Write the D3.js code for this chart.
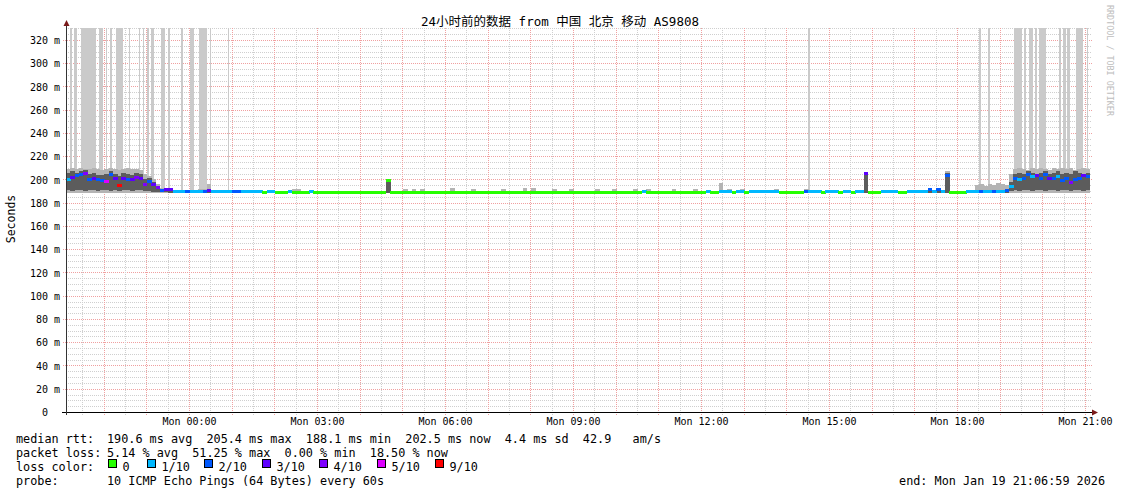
<!DOCTYPE html>
<html>
<head>
<meta charset="utf-8">
<script src="https://cdn.jsdelivr.net/npm/d3@7"></script>
<style>
  body { margin: 0; background: #fff; }
  svg { display: block; }
  text { white-space: pre; }
</style>
</head>
<body>
<script>
// smokeping style graph, 24h, 6 minute buckets from Sun Jan 18 21:07
var startTime = new Date(2026, 0, 18, 21, 7);
var endTime = new Date(2026, 0, 19, 21, 7);
var bucketMin = 6;

// median rtt (ms) per bucket
var median = [
  200,202,203,204,205,200,201,200,199,198,204,201,195,201,200,200,202,201,196,198,
  196,193,190.5,191,191,189.8,189.8,189.6,189.8,189.6,189.6,189.8,190,190.5,189.6,189.6,189.6,189.8,189.6,189.6,
  189.6,189.6,189.6,189.5,189.6,189.5,189,189.5,189.5,189,189,189,189.5,189,189,189,189,189.5,189,189,
  189,189,189,189,189,189,189,189,189,189,189,189,189,189,189,199,189,189,189,189,
  189,189,189,189,189,189,189,189,189,189,189,189,189,189,189,189,189,189,189,189,
  189,189,189,189,189,189,189,189,189,189,189,189,189,189,189,189,189,189,189,189,
  189,189,189,189,189,189,189,189,189,189,189,189,189,189,189,189.5,189,189,189,189,
  189,189,189,189,189,189,189,189,189,189,189.5,189,189,189.5,189.5,189.5,189,189.5,189.5,189,
  189.5,189.5,189.5,189.5,189.5,189.5,189.5,189,189,189,189,189,189,189.8,189.5,189.5,189.5,189,189.5,189.5,
  189.5,189,189.5,189.5,189,189.5,189.5,205,189,189,189,189.5,189.5,189.5,189.5,189,189,189.5,189.5,189.5,
  189.5,189.5,191,189.5,191,189.5,203,189,189,189,189,189.5,189.5,190,190,190,190,190,190,190,
  190.5,194,201,199.6,201,204,202.5,203,201,204,201,201,202.5,199,201,197,200,201,203,202.5
];

// lost pings out of 10 per bucket
var loss = [
  1,3,2,2,4,2,3,2,2,5,2,3,9,3,2,3,4,3,4,2,
  3,4,2,3,3,1,1,1,2,1,1,1,2,3,1,1,1,1,1,2,
  2,1,1,1,1,1,0,1,1,0,0,0,1,0,0,0,0,1,0,0,
  0,0,0,0,0,0,0,0,0,0,0,0,0,0,0,0,0,0,0,0,
  0,0,0,0,0,0,0,0,0,0,0,0,0,0,0,0,0,0,0,0,
  0,0,0,0,0,0,0,0,0,0,0,0,0,0,0,0,0,0,0,0,
  0,0,0,0,0,0,0,0,0,0,0,0,0,0,0,1,0,0,0,0,
  0,0,0,0,0,0,0,0,0,0,1,0,0,1,1,1,0,1,1,0,
  1,1,1,1,1,1,1,0,0,0,0,0,0,2,1,1,1,0,1,1,
  1,0,1,1,0,1,1,3,0,0,0,1,1,1,1,0,0,1,1,1,
  1,1,2,1,2,1,2,0,0,0,0,1,1,1,2,1,1,2,1,1,
  2,1,2,1,2,2,1,3,2,2,3,2,1,2,2,4,2,2,3,2
];

// highest ping (ms) per bucket - light smoke
var smokeHi = [
  209,210,209,210,209,209,210,209,208,209,210,209,208,209,210,209,209,208,205,203,
  200,196,193,192.5,192,191,191,190.5,191,191,190.5,191.5,192,196,191,190.5,190.5,191,190.5,191,
  190.5,190.5,191,190.5,190.5,190.5,190,190.5,191,190,190,190.5,190.5,191.5,191.5,190,190.5,190.5,190,190,
  190,190.5,190,190,190,190.5,190,190,190,190,190,190.5,190,190,190,200,190,190,190,192,
  190,192,190,192,190,190,190,190,190,190,192.5,190,190,190,190,192,190,190,190,190,
  190,190,192,190,190,190,190,192.5,190,192.5,190,190,190,190,192,190,190,190,192,190,
  190,190,190,190,192,190,190,190,192,190,190,190,190,192,190,190,192,190,190,190,
  190,190,192,190,190,190,190,192,190,190,190,190,190,197,190.5,192,190.5,190.5,192,190.5,
  191,190.5,190.5,191,190.5,190.5,192,190,190,190,190.5,190,190,192,190.5,190.5,191,190,190.5,191,
  190.5,190,191,190.5,190,190.5,191,206,190,190,190,190.5,191,190.5,190.5,190,190,190.5,191,190.5,
  190.5,191,193,191,193,191,207.5,190,190,190,190,190.5,191,195,196,194,196,195,197,196,
  195,205,209,210,209,208,210,209,210,209,208,210,209,210,209,210,208,209,210,209
];

// dense part of the ping spread - dark smoke
var coreHi = [
  206,207,206,207,208,205,206,204,204,205,207,205,203,206,205,204,206,205,200,201,
  198,194,191.5,191.5,191,190,190,190,190,190,190,190,190.5,191,190,190,190,190,190,190,
  190,190,190,190,190,190,190,190,190,190,190,190,190,190,190,190,190,190,190,190,
  190,190,190,190,190,190,190,190,190,190,190,190,190,190,190,199.5,190,190,190,190,
  190,190,190,190,190,190,190,190,190,190,190,190,190,190,190,190,190,190,190,190,
  190,190,190,190,190,190,190,190,190,190,190,190,190,190,190,190,190,190,190,190,
  190,190,190,190,190,190,190,190,190,190,190,190,190,190,190,190,190,190,190,190,
  190,190,190,190,190,190,190,190,190,190,190,190,190,190,190,190,190,190,190,190,
  190,190,190,190,190,190,190,190,190,190,190,190,190,190,190,190,190,190,190,190,
  190,190,190,190,190,190,190,205,190,190,190,190,190,190,190,190,190,190,190,190,
  190,190,192,190,192,190,206,190,190,190,190,190,190,191,191,191,191,191,191,191,
  191,198,205,206,205,207,206,205,206,207,205,206,207,205,206,205,207,206,205,206
];

var coreLo = [
  191,190.5,191,191,190.5,191,191,190.5,191,191,190,191,190.5,191,191,190.5,191,191,190,190,
  189.5,189,189,189,188.5,188.5,188.5,188.5,188.5,188.5,188.5,188.5,188.5,188.5,188.5,188.5,188.5,188.5,188.5,188.5,
  188.5,188.5,188.5,188.5,188.5,188.5,188.5,188.5,188.5,188.5,188.5,188.5,188.5,188.5,188.5,188.5,188.5,188.5,188.5,188.5,
  188.5,188.5,188.5,188.5,188.5,188.5,188.5,188.5,188.5,188.5,188.5,188.5,188.5,188.5,188.5,188.5,188.5,188.5,188.5,188.5,
  188.5,188.5,188.5,188.5,188.5,188.5,188.5,188.5,188.5,188.5,188.5,188.5,188.5,188.5,188.5,188.5,188.5,188.5,188.5,188.5,
  188.5,188.5,188.5,188.5,188.5,188.5,188.5,188.5,188.5,188.5,188.5,188.5,188.5,188.5,188.5,188.5,188.5,188.5,188.5,188.5,
  188.5,188.5,188.5,188.5,188.5,188.5,188.5,188.5,188.5,188.5,188.5,188.5,188.5,188.5,188.5,188.5,188.5,188.5,188.5,188.5,
  188.5,188.5,188.5,188.5,188.5,188.5,188.5,188.5,188.5,188.5,188.5,188.5,188.5,188.5,188.5,188.5,188.5,188.5,188.5,188.5,
  188.5,188.5,188.5,188.5,188.5,188.5,188.5,188.5,188.5,188.5,188.5,188.5,188.5,188.5,188.5,188.5,188.5,188.5,188.5,188.5,
  188.5,188.5,188.5,188.5,188.5,188.5,188.5,188.5,188.5,188.5,188.5,188.5,188.5,188.5,188.5,188.5,188.5,188.5,188.5,188.5,
  188.5,188.5,188.5,188.5,188.5,188.5,188.5,188.5,188.5,188.5,188.5,188.5,188.5,188.5,188.5,188.5,188.5,188.5,188.5,188.5,
  188.5,190,191,190.5,191,191,190.5,191,191,190.5,191,191,190.5,191,191,190.5,191,191,190.5,191
];
var pingFloor = 188.5;

// periods with lost pings (minutes after start) drawn as full height columns
var lossBars = [
  [5.6, 8.4], [11.3, 15.5], [21.1, 42.6], [46.4, 52.0], [56.3, 58.1], [62.3, 65.1],
  [70.3, 80.2], [88.2, 90.0], [102.2, 104.1], [108.7, 110.1], [113.9, 116.7],
  [119.1, 123.8], [134.0, 138.8], [143.0, 145.8], [162.1, 164.1], [174.8, 180.0],
  [187.0, 198.3], [202.5, 204.3], [227.4, 228.8],
  [1043.0, 1045.8], [1283.5, 1287.1], [1297.0, 1299.4], [1333.1, 1343.9],
  [1347.2, 1349.6], [1353.8, 1359.4], [1363.1, 1365.9], [1367.9, 1377.8],
  [1396.8, 1398.8], [1402.5, 1406.3], [1408.1, 1411.9], [1420.3, 1430.6], [1435.4, 1437.6]
];

var lossColor = ['#26ff00', '#00b8ff', '#0059ff', '#5e00ff', '#7e00ff',
  '#dd00ff', '#dd00ff', '#dd00ff', '#dd00ff', '#ff0000', '#ff0000'];
var legendKeys = ['0', '1/10', '2/10', '3/10', '4/10', '5/10', '9/10'];
var legendLoss = [0, 1, 2, 3, 4, 5, 9];

var title = '24小时前的数据 from 中国 北京 移动 AS9808';
var statLines = [
  ['median rtt:', '190.6 ms avg  205.4 ms max  188.1 ms min  202.5 ms now  4.4 ms sd  42.9   am/s'],
  ['packet loss:', '5.14 % avg  51.25 % max  0.00 % min  18.50 % now']
];
var probeText = '10 ICMP Echo Pings (64 Bytes) every 60s';
var endText = 'end: Mon Jan 19 21:06:59 2026';

var W = 1121, H = 494;
var mono = '"DejaVu Sans Mono", monospace';

var svg = d3.select('body').append('svg')
  .attr('width', W)
  .attr('height', H)
  .style('font-family', mono);

svg.append('rect').attr('width', W).attr('height', H).attr('fill', '#fff');

var x = d3.scaleTime().domain([startTime, endTime]).range([66, 1090]);
var y = d3.scaleLinear().domain([0, 330.3]).range([412, 28]);

function tOf(i) { return new Date(startTime.getTime() + i * bucketMin * 60000); }
function tMin(m) { return new Date(startTime.getTime() + m * 60000); }

// grid
var grid = svg.append('g').attr('shape-rendering', 'crispEdges');
var yMinor = d3.range(0, 331, 5);
grid.selectAll('.hy').data(yMinor).enter().append('line')
  .attr('x1', function(d) { return d % 20 === 0 ? 63 : 66; })
  .attr('x2', 1092)
  .attr('y1', function(d) { return Math.round(y(d)) + 0.5; })
  .attr('y2', function(d) { return Math.round(y(d)) + 0.5; })
  .attr('stroke', function(d) { return d % 20 === 0 ? '#f0a0a0' : '#cfcfcf'; })
  .attr('stroke-dasharray', '1,1');

var halfHours = x.ticks(d3.timeMinute.every(30));
grid.selectAll('.vx').data(halfHours).enter().append('line')
  .attr('x1', function(d) { return Math.round(x(d)) + 0.5; })
  .attr('x2', function(d) { return Math.round(x(d)) + 0.5; })
  .attr('y1', 28)
  .attr('y2', 415)
  .attr('stroke', function(d) { return d.getMinutes() === 0 ? '#f0a0a0' : '#cfcfcf'; })
  .attr('stroke-dasharray', '1,1');

// data layers
var plot = svg.append('g').attr('shape-rendering', 'crispEdges');

plot.selectAll('.lb').data(lossBars).enter().append('rect')
  .attr('x', function(d) { return x(tMin(d[0])); })
  .attr('width', function(d) { return Math.max(1, x(tMin(d[1])) - x(tMin(d[0]))); })
  .attr('y', y(330.3))
  .attr('height', y(pingFloor) - y(330.3))
  .attr('fill', '#cacaca');

var idx = d3.range(median.length);
var bw = x(tOf(1)) - x(tOf(0));

plot.selectAll('.sm').data(idx).enter().append('rect')
  .attr('x', function(i) { return x(tOf(i)); })
  .attr('width', bw + 0.3)
  .attr('y', function(i) { return y(smokeHi[i]); })
  .attr('height', function(i) { return y(pingFloor) - y(smokeHi[i]); })
  .attr('fill', '#b4b4b4');

plot.selectAll('.co').data(idx).enter().append('rect')
  .attr('x', function(i) { return x(tOf(i)); })
  .attr('width', bw + 0.3)
  .attr('y', function(i) { return y(coreHi[i]); })
  .attr('height', function(i) { return Math.max(0, y(coreLo[i]) - y(coreHi[i])); })
  .attr('fill', '#5c5c5c');

plot.selectAll('.md').data(idx).enter().append('rect')
  .attr('x', function(i) { return x(tOf(i)); })
  .attr('width', bw + 0.3)
  .attr('y', function(i) { return y(median[i]) - 1.5; })
  .attr('height', 3)
  .attr('fill', function(i) { return lossColor[loss[i]]; });

// axes
var axes = svg.append('g').attr('shape-rendering', 'crispEdges');
axes.append('line')
  .attr('x1', 62).attr('x2', 1093).attr('y1', 412.5).attr('y2', 412.5)
  .attr('stroke', '#000');
axes.append('line')
  .attr('x1', 66.5).attr('x2', 66.5).attr('y1', 415).attr('y2', 25)
  .attr('stroke', '#333');
svg.append('path')
  .attr('d', 'M1092,409.5 L1098,412.5 L1092,415.5 Z')
  .attr('fill', '#7a1a1a');
svg.append('path')
  .attr('d', 'M63.5,26 L66.5,20 L69.5,26 Z')
  .attr('fill', '#7a1a1a');

var xAxis = d3.axisBottom(x)
  .ticks(d3.timeHour.every(3))
  .tickFormat(d3.timeFormat('%a %H:%M'))
  .tickSize(0)
  .tickPadding(0);
var gx = svg.append('g').attr('transform', 'translate(0, 412)').call(xAxis);
gx.select('.domain').remove();
gx.selectAll('text')
  .attr('dy', null)
  .attr('y', 13)
  .style('font-family', mono)
  .style('font-size', '10px')
  .attr('fill', '#000');

var yAxis = d3.axisLeft(y)
  .tickValues(d3.range(0, 321, 20))
  .tickFormat(function(d) { return d === 0 ? '0\u00a0\u00a0' : d + ' m'; })
  .tickSize(0)
  .tickPadding(0);
var gy = svg.append('g').attr('transform', 'translate(60, 0)').call(yAxis);
gy.select('.domain').remove();
gy.selectAll('text')
  .attr('dy', '0.36em')
  .style('font-family', mono)
  .style('font-size', '10px')
  .attr('fill', '#000');

// titles
svg.append('text')
  .attr('x', 560).attr('y', 25.5)
  .attr('text-anchor', 'middle')
  .style('font-family', '"DejaVu Sans Mono", "Noto Sans CJK SC", monospace')
  .style('font-size', '12.5px')
  .attr('fill', '#000')
  .text(title);

svg.append('text')
  .attr('transform', 'translate(15, 219) rotate(-90)')
  .attr('text-anchor', 'middle')
  .style('font-size', '11.5px')
  .attr('fill', '#000')
  .text('Seconds');

svg.append('text')
  .attr('transform', 'translate(1107, 5) rotate(90)')
  .style('font-size', '8.4px')
  .attr('fill', '#bdbdbd')
  .text('RRDTOOL / TOBI OETIKER');

// legend
var lg = svg.append('g')
  .style('font-size', '11.8px')
  .attr('fill', '#000');

statLines.forEach(function(row, k) {
  lg.append('text').attr('x', 16).attr('y', 442.5 + k * 14).text(row[0]);
  lg.append('text').attr('x', 107).attr('y', 442.5 + k * 14).text(row[1]);
});

lg.append('text').attr('x', 16).attr('y', 470.5).text('loss color:');
var boxX = [108, 147, 204, 262, 319, 377, 435];
legendKeys.forEach(function(key, k) {
  lg.append('rect')
    .attr('x', boxX[k] + 0.5).attr('y', 459.5)
    .attr('width', 8).attr('height', 8)
    .attr('fill', lossColor[legendLoss[k]])
    .attr('stroke', '#000')
    .attr('shape-rendering', 'crispEdges');
  lg.append('text').attr('x', boxX[k] + 14.5).attr('y', 470.5).text(key);
});

lg.append('text').attr('x', 16).attr('y', 484.5).text('probe:');
lg.append('text').attr('x', 107).attr('y', 484.5).text(probeText);
lg.append('text').attr('x', 1105).attr('y', 484.5).attr('text-anchor', 'end').text(endText);
</script>
</body>
</html>
